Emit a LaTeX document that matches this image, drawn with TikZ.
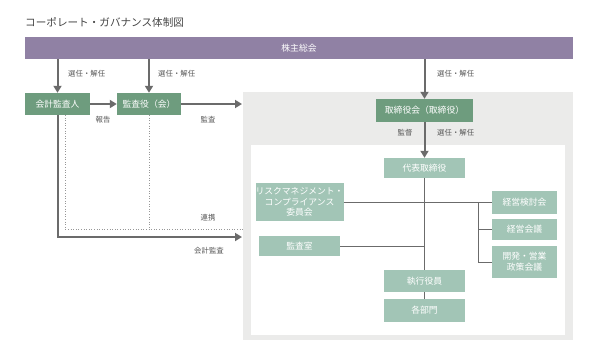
\documentclass[tikz,border=0pt]{standalone}
\usepackage{fontspec}
\newfontfamily\jp{Noto Sans CJK JP}
\usetikzlibrary{arrows.meta}
\definecolor{barpurple}{HTML}{9081A4}
\definecolor{boxdark}{HTML}{6E9C7E}
\definecolor{boxlight}{HTML}{A2C5B6}
\definecolor{panelgray}{HTML}{EBEBEA}
\definecolor{linegray}{HTML}{6B6B6B}
\definecolor{textgray}{HTML}{555555}
\begin{document}
\begin{tikzpicture}[x=1pt,y=-1pt,
    darkbox/.style={fill=boxdark,text=white,inner sep=0pt,align=center,
      font=\jp\fontsize{8.8}{10.8}\selectfont},
    lightbox/.style={fill=boxlight,text=white,inner sep=0pt,align=center,
      font=\jp\fontsize{8.8}{10.8}\selectfont},
    arr/.style={draw=linegray,line width=2pt,-{Triangle[length=7pt,width=8pt]}},
    tree/.style={draw=linegray,line width=0.9pt},
    dots/.style={draw=linegray!70,line width=0.6pt,dotted},
    note/.style={font=\jp\fontsize{7.4}{8.5}\selectfont,text=textgray,inner sep=0pt}]
  \useasboundingbox (0,0) rectangle (596,362);
  % Title
  \node[anchor=base west,inner sep=0pt,text=textgray!80!black,font=\jp\fontsize{10.6}{12}\selectfont] (title) at (25,26) {コーポレート・ガバナンス体制図};
  % Panels
  \fill[panelgray] (243,92) rectangle (573,340);
  \fill[white] (251,145) rectangle (565,335);
  % Shareholders
  \node[fill=barpurple,text=white,inner sep=0pt,minimum width=548pt,minimum height=22pt,
    font=\jp\fontsize{8.8}{10.8}\selectfont] (bar) at (299,48) {株主総会};
  % Left side
  \node[darkbox,minimum width=65pt,minimum height=22pt] (auditor) at (57.5,104) {会計監査人};
  \node[darkbox,minimum width=64pt,minimum height=22pt] (kansa) at (149,104) {監査役（会）};
  \node[darkbox,minimum width=97pt,minimum height=23pt] (board) at (424.5,110.5) {取締役会（取締役）};
  % Inner boxes
  \node[lightbox,minimum width=81pt,minimum height=20pt] (ceo) at (424.5,168) {代表取締役};
  \node[lightbox,minimum width=81pt,minimum height=38pt] (risk) at (299.5,202) {リスクマネジメント・\\コンプライアンス\\委員会};
  \node[lightbox,minimum width=81pt,minimum height=20pt] (office) at (299.5,246) {監査室};
  \node[lightbox,minimum width=65pt,minimum height=23pt] (review) at (524.5,202) {経営検討会};
  \node[lightbox,minimum width=65pt,minimum height=21pt] (mgmt) at (524.5,229.5) {経営会議};
  \node[lightbox,minimum width=65pt,minimum height=32pt] (policy) at (524.5,262) {開発・営業\\政策会議};
  \node[lightbox,minimum width=81pt,minimum height=22pt] (officers) at (424.5,281) {執行役員};
  \node[lightbox,minimum width=81pt,minimum height=23pt] (depts) at (424.5,310.5) {各部門};
  % Connectors from the bar
  \draw[arr] (auditor.north |- bar.south) -- (auditor.north);
  \draw[arr] (kansa.north |- bar.south) -- (kansa.north);
  \draw[arr] (board.north |- bar.south) -- (board.north);
  \draw[arr] (board.south) -- (ceo.north);
  \draw[arr] (auditor.east) -- (kansa.west);
  \coordinate (auditin) at (242,104);
  \draw[arr] (kansa.east) -- (auditin);
  \coordinate (acctin) at (242,237);
  \draw[arr] (auditor.south) |- (acctin);
  % Cooperation
  \coordinate (coopl) at (65,115);
  \coordinate (coopr) at (243,229);
  \draw[dots] (coopl) |- (coopr);
  \draw[dots] (kansa.south) -- (kansa.south |- coopr);
  % Tree
  \draw[tree] (ceo.south) -- (officers.north);
  \draw[tree] (officers.south) -- (depts.north);
  \draw[tree] (risk.east) -- (review.west);
  \draw[tree] (office.east) -- (ceo.south |- office.east);
  \coordinate (fork) at (478,202);
  \draw[tree] (fork) -- (fork |- policy.west) -- (policy.west);
  \draw[tree] (fork |- mgmt.west) -- (mgmt.west);
  % Labels
  \node[note,anchor=west] (l1) at (68,74) {選任・解任};
  \node[note,anchor=west] (l2) at (158,74) {選任・解任};
  \node[note,anchor=west] (l3) at (437,74) {選任・解任};
  \node[note] (l4) at (103,120) {報告};
  \node[note] (l5) at (208,120) {監査};
  \node[note] (l6) at (208,218) {連携};
  \node[note] (l7) at (209,251) {会計監査};
  \node[note] (l8) at (405,133) {監督};
  \node[note,anchor=west] (l9) at (437,133) {選任・解任};
\end{tikzpicture}
\end{document}
